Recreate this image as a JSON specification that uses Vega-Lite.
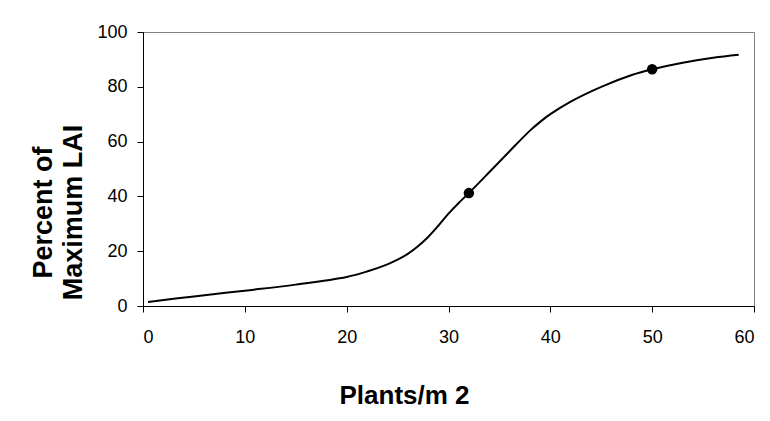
{
  "$schema": "https://vega.github.io/schema/vega-lite/v6.json",
  "width": 611,
  "height": 274,
  "autosize": {"type": "none"},
  "padding": {"left": 143, "top": 32, "right": 16, "bottom": 115},
  "background": "white",
  "config": {
    "view": {"stroke": "#808080", "strokeWidth": 1},
    "axis": {
      "grid": false,
      "domainColor": "black",
      "tickColor": "black",
      "tickSize": 6,
      "labelFont": "Liberation Sans",
      "labelFontSize": 18,
      "labelColor": "black",
      "titleFont": "Liberation Sans",
      "titleFontWeight": "bold",
      "titleColor": "black"
    }
  },
  "datasets": {
    "curve": [
      {"plants": 0.5, "lai": 1.5},
      {"plants": 5, "lai": 3.5},
      {"plants": 10, "lai": 5.6},
      {"plants": 15, "lai": 7.8},
      {"plants": 20, "lai": 10.6},
      {"plants": 22, "lai": 12.6},
      {"plants": 24, "lai": 15.2},
      {"plants": 25, "lai": 16.9},
      {"plants": 26, "lai": 19},
      {"plants": 27, "lai": 21.8},
      {"plants": 28, "lai": 25.2},
      {"plants": 29, "lai": 29.3},
      {"plants": 30, "lai": 33.7},
      {"plants": 31, "lai": 37.6},
      {"plants": 32, "lai": 41.2},
      {"plants": 34, "lai": 48.8},
      {"plants": 36, "lai": 56.5},
      {"plants": 38, "lai": 64},
      {"plants": 39, "lai": 67.2},
      {"plants": 40, "lai": 70},
      {"plants": 42, "lai": 74.6},
      {"plants": 45, "lai": 80},
      {"plants": 48, "lai": 84.3},
      {"plants": 50, "lai": 86.4},
      {"plants": 53, "lai": 88.8},
      {"plants": 56, "lai": 90.6},
      {"plants": 58.5, "lai": 91.7}
    ],
    "points": [
      {"plants": 32, "lai": 41.2},
      {"plants": 50, "lai": 86.4}
    ]
  },
  "layer": [
    {
      "data": {"name": "curve"},
      "mark": {"type": "line", "color": "black", "strokeWidth": 2, "interpolate": "catmull-rom"},
      "encoding": {
        "x": {
          "field": "plants", "type": "quantitative",
          "scale": {"domain": [0, 60], "nice": false},
          "axis": {
            "values": [0, 10, 20, 30, 40, 50, 60],
            "labelPadding": 16,
            "title": "Plants/m 2",
            "titleFontSize": 26,
            "titleX": 261,
            "titleY": 97,
            "titleBaseline": "alphabetic",
            "titleAlign": "center"
          }
        },
        "y": {
          "field": "lai", "type": "quantitative",
          "scale": {"domain": [0, 100], "nice": false},
          "axis": {
            "values": [0, 20, 40, 60, 80, 100],
            "labelPadding": 10,
            "title": ["Percent of", "Maximum LAI"],
            "titleFontSize": 27,
            "titleLineHeight": 30,
            "titleAngle": -90,
            "titleAlign": "center",
            "titleBaseline": "alphabetic",
            "titleX": -92,
            "titleY": 180
          }
        }
      }
    },
    {
      "data": {"name": "points"},
      "mark": {"type": "point", "filled": true, "color": "black", "opacity": 1, "size": 110},
      "encoding": {
        "x": {"field": "plants", "type": "quantitative"},
        "y": {"field": "lai", "type": "quantitative"}
      }
    }
  ]
}
